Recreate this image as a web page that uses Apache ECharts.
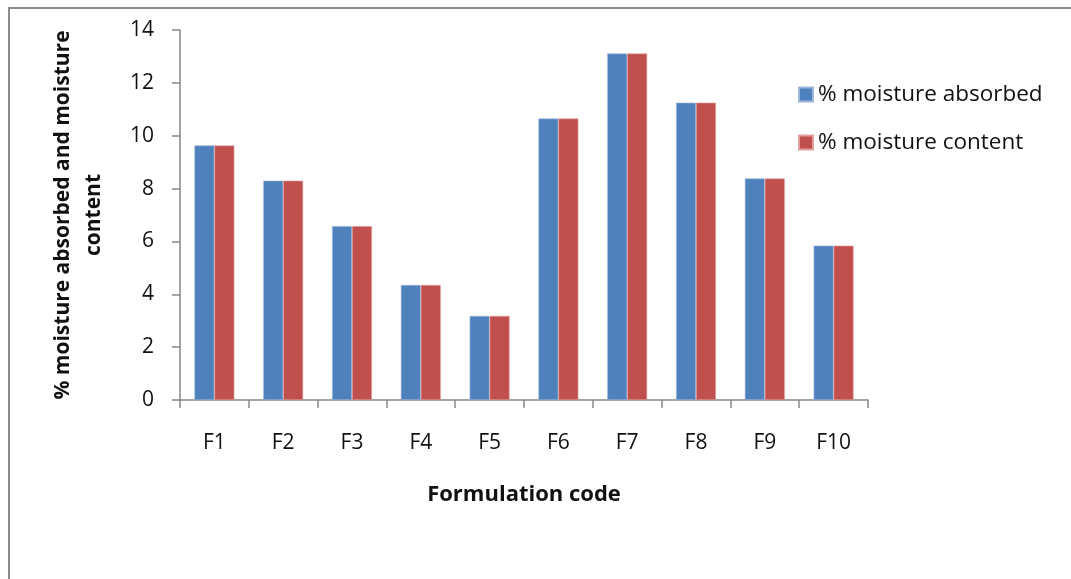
<!DOCTYPE html>
<html>
<head>
<meta charset="utf-8">
<script src="https://cdn.jsdelivr.net/npm/echarts@6/dist/echarts.min.js"></script>
<style>
html,body{margin:0;padding:0;background:#fff;}
#chart{width:1071px;height:579px;}
</style>
</head>
<body>
<div id="chart"></div>
<script>
const categories = ['F1','F2','F3','F4','F5','F6','F7','F8','F9','F10'];
const moistureAbsorbed = [9.63, 8.30, 6.58, 4.35, 3.18, 10.65, 13.11, 11.25, 8.38, 5.84];
const moistureContent  = [9.63, 8.30, 6.58, 4.35, 3.18, 10.65, 13.11, 11.25, 8.38, 5.84];
const seriesNames = ['% moisture absorbed', '% moisture content'];
const yTicks = {min: 0, max: 14, interval: 2};

const FONT = '"Open Sans"';
const chart = echarts.init(document.getElementById('chart'), null, {renderer: 'canvas'});
const axisColor = '#868686';
chart.setOption({
  animation: false,
  backgroundColor: '#fff',
  graphic: [{
    type: 'polyline',
    shape: {points: [[9, 600], [9, 8], [1100, 8]]},
    style: {stroke: '#8c8c8c', lineWidth: 2, fill: null},
    silent: true
  }],
  grid: {left: 180, right: 203, top: 30, bottom: 179, containLabel: false},
  legend: {
    orient: 'vertical',
    left: 798, top: 83,
    padding: 0,
    itemWidth: 14, itemHeight: 14,
    itemGap: 25,
    icon: 'rect',
    textStyle: {fontFamily: FONT, fontSize: 22.5, color: '#111'},
    data: seriesNames
  },
  xAxis: {
    type: 'category',
    data: categories,
    name: 'Formulation code',
    nameLocation: 'middle',
    nameGap: 84,
    nameTextStyle: {fontFamily: FONT, fontSize: 22, fontWeight: 'bold', color: '#111'},
    axisLine: {lineStyle: {color: axisColor, width: 1.5}},
    axisTick: {show: true, length: 8, lineStyle: {color: axisColor, width: 1.5}, alignWithLabel: false},
    axisLabel: {fontFamily: FONT, fontSize: 21, color: '#111', margin: 33}
  },
  yAxis: {
    type: 'value',
    min: yTicks.min, max: yTicks.max, interval: yTicks.interval,
    name: '% moisture absorbed and moisture\ncontent',
    nameLocation: 'middle',
    nameRotate: 90,
    nameGap: 70,
    nameTextStyle: {fontFamily: FONT, fontSize: 21, fontWeight: 'bold', color: '#111', lineHeight: 31, align: 'center'},
    axisLine: {show: true, lineStyle: {color: axisColor, width: 1.5}},
    axisTick: {show: true, length: 8, lineStyle: {color: axisColor, width: 1.5}},
    splitLine: {show: false},
    axisLabel: {fontFamily: FONT, fontSize: 21, color: '#111', margin: 26}
  },
  series: [
    {name: seriesNames[0], type: 'bar', data: moistureAbsorbed, barGap: '0%', barCategoryGap: '42%',
     itemStyle: {color: '#4F81BD', borderColor: '#9db7dc', borderWidth: 0.6}},
    {name: seriesNames[1], type: 'bar', data: moistureContent, barGap: '0%', barCategoryGap: '42%',
     itemStyle: {color: '#C0504D', borderColor: '#e0a09e', borderWidth: 0.6}}
  ]
});
</script>
</body>
</html>
